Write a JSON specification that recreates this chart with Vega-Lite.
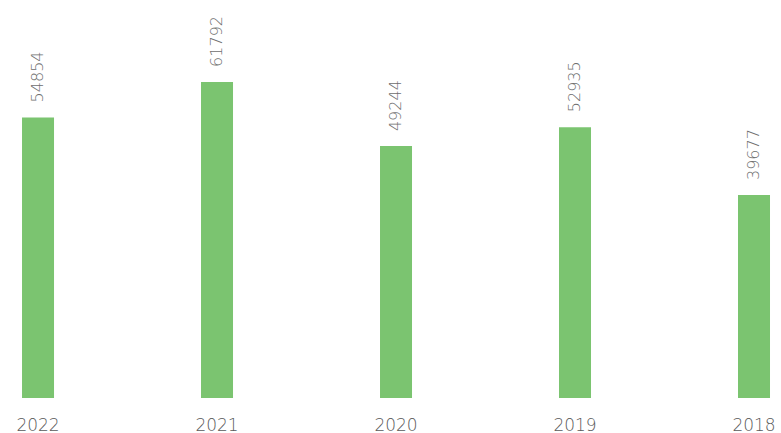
{
  "$schema": "https://vega.github.io/schema/vega-lite/v6.json",
  "width": 781,
  "height": 398,
  "autosize": {"type": "none"},
  "padding": {"left": 0, "top": 0, "right": 0, "bottom": 35},
  "background": "white",
  "data": {
    "values": [
      {"year": "2022", "value": 54854},
      {"year": "2021", "value": 61792},
      {"year": "2020", "value": 49244},
      {"year": "2019", "value": 52935},
      {"year": "2018", "value": 39677}
    ]
  },
  "encoding": {
    "x": {
      "field": "year",
      "type": "nominal",
      "sort": null,
      "title": null,
      "scale": {"paddingInner": 0.8212, "paddingOuter": 0.0922, "align": 0.667},
      "axis": {
        "domain": false,
        "ticks": false,
        "labelAngle": 0,
        "labelFont": "DejaVu Sans",
        "labelFontWeight": 300,
        "labelFontSize": 17,
        "labelColor": "#5a5a5a",
        "labelPadding": 19,
        "labelOverlap": false
      }
    },
    "y": {
      "field": "value",
      "type": "quantitative",
      "scale": {"domain": [0, 77800], "nice": false},
      "axis": null
    }
  },
  "layer": [
    {
      "mark": {"type": "bar", "color": "#7bc470"}
    },
    {
      "mark": {
        "type": "text",
        "angle": 270,
        "align": "left",
        "baseline": "middle",
        "dx": 15,
        "font": "DejaVu Sans",
        "fontWeight": 300,
        "fontSize": 16,
        "color": "#6e6e6e"
      },
      "encoding": {
        "text": {"field": "value", "type": "quantitative", "format": "d"}
      }
    }
  ],
  "config": {"view": {"stroke": null}}
}
